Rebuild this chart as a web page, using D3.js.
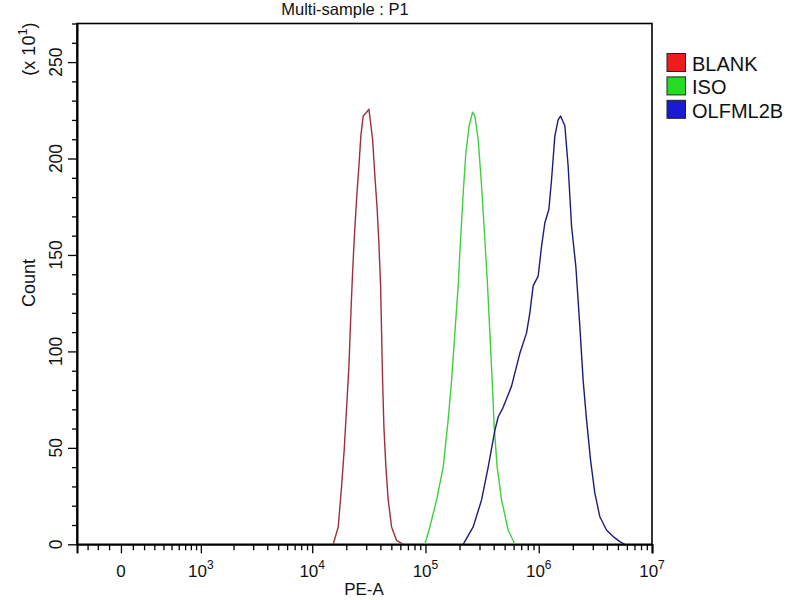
<!DOCTYPE html>
<html>
<head>
<meta charset="utf-8">
<script src="https://cdn.jsdelivr.net/npm/d3@7"></script>
<style>
  html, body { margin: 0; padding: 0; background: #fff; }
  svg { display: block; font-family: "Liberation Sans", Arial, sans-serif; }
</style>
</head>
<body>
<svg id="chart" width="800" height="600"></svg>
<script>
// ---- data (PE-A value, count in units of x10^1) ----
const seriesNames = ["BLANK", "ISO", "OLFML2B"];
const lineColors = ["#9e2f3c", "#3fcf3f", "#1c1c78"];
const legendColors = ["#ee1c1c", "#22dd22", "#1a1ad6"];

const blankX = [15330, 16970, 18180, 19170, 20130, 21090, 21970, 22740, 23490, 24660, 25850, 26920, 28200, 30230, 31670, 32780, 34140, 35770, 37490, 38810, 40180, 40990, 41830, 42960, 44750, 46890, 50240, 55610, 63570];
const blankY = [0, 9, 30, 49, 71, 92, 120, 141, 158, 179, 196, 212, 222, 224, 225.6, 218.6, 210, 191, 173.6, 156, 134, 109.6, 85, 61, 40, 23, 9, 2, 0];

const isoX = [98850, 109400, 125400, 143400, 158700, 170100, 181900, 194500, 204200, 215300, 227400, 243100, 260600, 273100, 291900, 312800, 334600, 353400, 370300, 388000, 404200, 429700, 469700, 537100, 615400];
const isoY = [0, 9, 23, 40, 64.5, 85, 109.6, 134, 158, 182, 203, 217, 224, 222, 210, 186, 158, 134, 109.6, 85, 61, 40, 23, 7.4, 0];

const olfX = [215300, 263800, 312800, 357900, 410000, 438300, 485200, 575600, 681400, 780800, 835000, 892800, 988500, 1059400, 1132800, 1228600, 1297700, 1387400, 1484200, 1557800, 1700700, 1818600, 1948300, 2126500, 2306700, 2466800, 2643300, 2866500, 3128700, 3463900, 3967400, 4538100, 5200600, 5756400];
const olfY = [0, 9, 23, 40, 59, 66, 71, 82, 99, 109.6, 120, 134, 139, 154.5, 166.7, 173.6, 189, 211.6, 220, 222, 217, 196, 165, 144, 113, 85, 64.5, 43.8, 26.5, 14.3, 7.4, 4, 1.4, 0];

const xMajorTicks = [0, 1e3, 1e4, 1e5, 1e6, 1e7];
const xMajorLabels = [["0", ""], ["10", "3"], ["10", "4"], ["10", "5"], ["10", "6"], ["10", "7"]];
const xMinorTicks = [-300, -200, -100, 100, 200, 300, 400, 500, 600, 700, 800, 900,
  2e3, 3e3, 4e3, 5e3, 6e3, 7e3, 8e3, 9e3,
  2e4, 3e4, 4e4, 5e4, 6e4, 7e4, 8e4, 9e4,
  2e5, 3e5, 4e5, 5e5, 6e5, 7e5, 8e5, 9e5,
  2e6, 3e6, 4e6, 5e6, 6e6, 7e6, 8e6, 9e6];
const yMajorTicks = [0, 50, 100, 150, 200, 250];
const yMinorTicks = [10, 20, 30, 40, 60, 70, 80, 90, 110, 120, 130, 140, 160, 170, 180, 190, 210, 220, 230, 240, 260, 270];
const xDomain = [-417, 1e7];
const yDomain = [0, 270];

// ---- layout ----
const L = 77, R = 652, T = 23.5, B = 544.3;
const svg = d3.select("#chart");

// biexponential (arcsinh) display transform
const W = 410;
const tf = v => Math.asinh(v / W) / Math.LN10;
const xLin = d3.scaleLinear().domain(xDomain.map(tf)).range([L, R]);
const x = v => xLin(tf(v));
const y = d3.scaleLinear().domain(yDomain).range([B, T]);

// frame
svg.append("rect").attr("x", L).attr("y", T).attr("width", R - L).attr("height", B - T)
  .attr("fill", "none").attr("stroke", "#000").attr("stroke-width", 1.6);

// curves
const series = [[blankX, blankY], [isoX, isoY], [olfX, olfY]];
const line = d3.line().x(d => x(d[0])).y(d => y(d[1])).curve(d3.curveLinear);
series.forEach((s, i) => {
  const pts = s[0].map((v, j) => [v, s[1][j]]);
  svg.append("path").datum(pts).attr("d", line)
    .attr("fill", "none").attr("stroke", lineColors[i]).attr("stroke-width", 1.4)
    .attr("stroke-linejoin", "round");
});

// x axis
const xAxisMinor = d3.axisBottom(xLin)
  .tickValues(xMinorTicks.map(tf)).tickSize(6).tickSizeOuter(9).tickFormat("");
const gxm = svg.append("g").attr("transform", `translate(0,${B})`).call(xAxisMinor);
const xAxisMajor = d3.axisBottom(xLin).tickValues(xMajorTicks.map(tf)).tickSize(9).tickSizeOuter(9).tickFormat("");
const gx = svg.append("g").attr("transform", `translate(0,${B})`).call(xAxisMajor);
[gx, gxm].forEach(g => {
  g.select(".domain").attr("stroke-width", 1.6);
  g.selectAll(".tick line").attr("stroke-width", 1.3);
});
xMajorTicks.forEach((v, i) => {
  const t = svg.append("text").attr("x", x(v)).attr("y", 577)
    .attr("text-anchor", "middle").attr("font-size", 17).attr("fill", "#111");
  t.append("tspan").text(xMajorLabels[i][0]);
  if (xMajorLabels[i][1]) t.append("tspan").attr("dy", -8).attr("font-size", 12).text(xMajorLabels[i][1]);
});

// y axis
const yAxisMinor = d3.axisLeft(y).tickValues(yMinorTicks).tickSize(5).tickSizeOuter(0).tickFormat("");
const gym = svg.append("g").attr("transform", `translate(${L},0)`).call(yAxisMinor);
const yAxisMajor = d3.axisLeft(y).tickValues(yMajorTicks).tickSize(9).tickSizeOuter(0).tickFormat("");
const gy = svg.append("g").attr("transform", `translate(${L},0)`).call(yAxisMajor);
[gy, gym].forEach(g => {
  g.select(".domain").attr("stroke-width", 1.6);
  g.selectAll(".tick line").attr("stroke-width", 1.3);
});
yMajorTicks.forEach(v => {
  svg.append("text").attr("transform", `translate(62,${y(v)}) rotate(-90)`)
    .attr("text-anchor", "middle").attr("font-size", 17.5).attr("fill", "#111").text(v);
});

// axis titles
svg.append("text").attr("x", 345).attr("y", 15).attr("text-anchor", "middle")
  .attr("font-size", 16.5).attr("fill", "#111").text("Multi-sample : P1");
svg.append("text").attr("x", 364).attr("y", 595).attr("text-anchor", "middle")
  .attr("font-size", 17).attr("fill", "#111").text("PE-A");
svg.append("text").attr("transform", "translate(35,283) rotate(-90)").attr("text-anchor", "middle")
  .attr("font-size", 18).attr("fill", "#111").text("Count");
const mult = svg.append("text").attr("transform", "translate(35,49) rotate(-90)").attr("text-anchor", "middle")
  .attr("font-size", 18).attr("fill", "#111");
mult.append("tspan").text("(x 10");
mult.append("tspan").attr("dy", -8).attr("font-size", 13).text("1");
mult.append("tspan").attr("dy", 8).text(")");

// legend
seriesNames.forEach((n, i) => {
  const yy = 53.5 + i * 23.4;
  svg.append("rect").attr("x", 667).attr("y", yy).attr("width", 18.5).attr("height", 18)
    .attr("fill", legendColors[i]).attr("stroke", "#222").attr("stroke-width", 1);
  svg.append("text").attr("x", 692).attr("y", yy + 17.5).attr("font-size", 20)
    .attr("fill", "#111").text(n);
});
</script>
</body>
</html>
